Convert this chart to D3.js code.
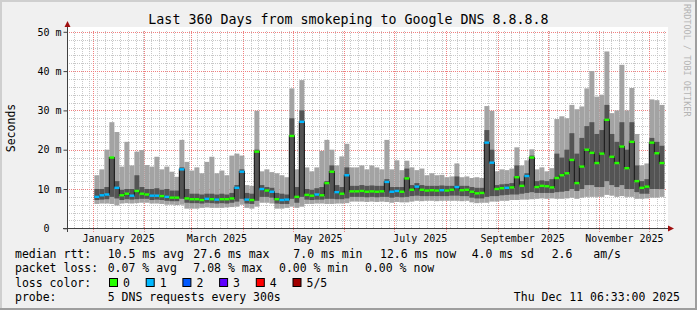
<!DOCTYPE html>
<html>
<head>
<meta charset="utf-8">
<script src="https://cdnjs.cloudflare.com/ajax/libs/d3/7.8.5/d3.min.js"></script>
<style>
body { margin: 0; background: #f0f0f0; }
svg { display: block; }
text { font-family: "DejaVu Sans Mono", monospace; }
</style>
</head>
<body>
<div id="chart"></div>
<script>
// one column per 3 days, starting 2 Jan 2025 (values in ms)
var firstDay = new Date(2025, 0, 2);
var stepDays = 3;

var maxRtt = [13.5,15.0,20.0,27.0,24.5,15.7,22.0,16.0,19.5,19.9,16.1,15.7,18.2,15.0,15.7,14.4,13.1,22.5,16.9,14.7,
  15.5,14.0,16.9,18.2,14.0,14.7,13.5,18.5,19.0,18.5,11.0,10.8,29.9,14.5,15.0,14.3,14.0,13.5,13.0,35.6,
  15.0,37.7,15.5,14.5,15.5,19.7,22.5,20.0,16.0,18.3,21.5,15.5,15.5,16.0,15.0,16.0,15.5,15.0,22.5,15.0,
  17.3,14.8,17.2,15.5,14.8,15.2,13.5,14.0,13.5,13.6,13.0,13.2,16.5,13.0,13.2,12.8,13.0,12.8,31.1,29.9,
  14.5,15.0,14.8,15.2,20.6,16.0,17.3,20.1,15.0,15.5,14.5,15.3,27.8,28.5,28.0,31.4,30.3,31.0,35.6,40.0,
  33.5,34.0,45.0,29.3,30.0,41.6,30.0,35.7,24.0,16.0,16.5,32.8,32.6,31.4];
var hiRtt = [10.0,10.0,10.5,18.0,12.0,9.8,10.0,10.0,13.5,10.5,10.0,10.0,10.2,9.8,10.0,9.6,9.6,15.5,10.0,8.8,
  8.8,8.6,8.8,8.8,8.6,8.8,8.6,9.0,11.0,15.0,9.0,8.8,20.0,11.0,10.5,10.3,9.0,8.8,8.6,28.0,
  10.5,30.0,10.0,9.8,10.2,10.5,12.0,16.0,11.0,10.5,15.5,10.8,10.8,11.0,10.8,10.9,10.8,10.8,12.5,10.5,
  10.5,10.5,15.2,11.0,11.5,11.0,10.8,10.8,10.8,10.9,10.8,10.8,13.2,10.8,10.8,10.5,10.3,10.3,25.0,20.0,
  11.0,11.2,11.3,11.5,16.0,12.0,14.0,18.5,12.0,12.2,12.0,12.5,19.0,18.0,20.0,24.2,19.0,23.0,26.0,27.0,
  24.0,25.0,31.4,24.0,22.0,27.0,20.0,27.0,16.0,12.0,12.5,23.0,22.0,21.0];
var medRtt = [8.0,8.4,8.6,18.0,10.3,8.4,8.8,8.3,9.5,8.8,8.6,8.3,8.3,8.2,8.0,7.8,7.8,15.0,7.6,7.4,
  7.4,7.2,7.5,7.4,7.3,7.4,7.4,7.6,10.3,14.4,7.3,7.2,19.5,10.0,9.6,9.3,7.4,7.2,7.3,23.5,
  8.0,27.1,8.5,8.3,8.6,8.4,11.5,14.4,9.2,8.8,13.5,9.4,9.4,9.5,9.3,9.4,9.3,9.4,11.8,9.3,
  9.5,9.3,12.7,9.8,10.6,9.8,9.6,9.7,9.6,9.7,9.6,9.8,10.5,9.7,9.8,9.3,8.9,9.0,21.8,16.7,
  10.0,10.2,10.3,10.4,13.0,10.8,13.3,18.0,10.5,10.8,10.7,10.4,12.8,13.5,14.0,17.4,11.5,15.7,20.0,19.2,
  16.6,19.0,27.6,18.2,16.6,20.8,15.3,22.0,12.0,10.3,10.6,21.8,19.1,16.6];
var loRtt = [7.2,7.3,7.4,8.0,7.6,7.2,7.4,7.3,7.4,7.5,7.5,7.2,7.3,7.2,7.0,6.9,6.9,7.5,6.5,6.4,
  6.4,6.3,6.5,6.4,6.3,6.4,6.3,6.5,6.8,7.5,6.3,6.2,7.0,8.0,8.0,7.8,6.3,6.2,6.2,7.5,
  6.5,8.0,7.3,7.2,7.3,7.3,7.5,7.5,7.4,7.4,7.6,8.0,8.0,8.0,7.9,8.0,7.9,8.0,8.0,7.8,
  8.0,7.9,8.0,8.2,8.3,8.2,8.2,8.2,8.2,8.2,8.2,8.3,8.3,8.2,8.2,7.8,7.6,7.6,8.0,8.2,
  8.2,8.4,8.5,8.6,8.6,8.8,9.0,9.2,9.0,9.0,9.0,9.0,9.2,9.3,9.5,10.0,9.5,10.0,11.0,11.0,
  10.5,10.5,12.0,11.0,10.5,11.0,10.0,10.0,9.2,8.8,8.8,10.0,10.0,10.0];
var minRtt = [6.2,6.3,6.3,6.2,5.8,6.3,6.4,6.3,6.4,6.5,6.5,6.3,6.3,6.2,6.0,6.0,5.9,6.0,5.0,5.0,
  5.0,5.2,5.3,5.2,5.2,5.2,5.3,5.4,5.5,6.0,5.2,5.0,5.5,6.5,6.5,6.3,5.0,5.0,5.2,5.5,
  5.2,5.5,6.2,6.2,6.3,6.3,6.2,6.2,6.3,6.3,6.4,6.8,6.8,6.8,6.7,6.8,6.7,6.8,6.7,6.5,
  6.7,6.6,6.6,6.8,7.0,6.9,7.0,7.0,6.9,7.0,7.0,7.0,7.0,6.9,7.0,6.6,6.4,6.5,6.5,6.8,
  6.8,7.0,7.0,7.2,7.2,7.3,7.3,7.4,7.5,7.6,7.5,7.6,7.5,7.5,7.6,7.8,7.5,7.8,8.0,8.0,
  8.0,8.0,8.5,8.3,8.0,8.2,8.0,8.0,7.5,7.5,7.6,7.8,7.8,8.0];
var lostPings = [1,1,1,0,1,0,0,1,0,0,0,1,1,0,1,0,0,1,0,0,
  0,0,1,0,1,0,0,0,1,1,1,0,0,1,0,1,0,1,1,0,
  0,1,0,0,1,0,0,0,1,0,1,0,0,0,0,0,0,0,1,1,
  1,0,0,0,1,0,0,0,0,1,0,0,1,0,0,0,0,0,1,1,
  0,0,1,0,0,0,1,0,0,0,0,0,0,0,0,0,0,0,0,0,
  0,0,0,0,0,0,0,0,0,0,0,0,0,0];

var lossColors = ["#26ff00", "#00b8ff", "#0059ff", "#5e00ff", "#ff0000", "#a00000"];
var lossLabels = ["0", "1", "2", "3", "4", "5/5"];
var yTicks = [0, 10, 20, 30, 40, 50];
var monthLabels = ["January 2025", "March 2025", "May 2025", "July 2025", "September 2025", "November 2025"];

var W = 697, H = 310;

var svg = d3.select("#chart").append("svg")
  .attr("width", W).attr("height", H);

// background and 3d frame
svg.append("rect").attr("width", W).attr("height", H).attr("fill", "#f0f0f0");
svg.append("path").attr("d", "M0,0H" + W + "V2H2V" + H + "H0Z").attr("fill", "#cfcfcf");
svg.append("path").attr("d", "M" + W + "," + H + "H0V" + (H - 2) + "H" + (W - 2) + "V0H" + W + "Z").attr("fill", "#9e9e9e");

var x = d3.scaleTime()
  .domain([new Date(2024, 11, 16, 6, 33), new Date(2025, 11, 11, 6, 33)])
  .range([66.5, 666.5]);
var y = d3.scaleLinear().domain([0, 50]).range([228.3, 31.8]);

// canvas
svg.append("rect").attr("x", 67).attr("y", 27).attr("width", 601).attr("height", 201).attr("fill", "#ffffff");

var cols = medRtt.map(function(m, i) {
  var t0 = d3.timeDay.offset(firstDay, i * stepDays);
  return {t0: t0, t1: d3.timeDay.offset(t0, stepDays), max: maxRtt[i], hi: hiRtt[i],
    med: m, lo: loRtt[i], min: minRtt[i], loss: lostPings[i]};
});

// grid behind the smoke
var grid = svg.append("g");
var minorY = d3.range(2, 51, 2).filter(function(v) { return v % 10; });
grid.selectAll("line.ymin").data(minorY).enter().append("line")
  .attr("x1", 67).attr("x2", 667)
  .attr("y1", function(d) { return Math.round(y(d)) + 0.5; })
  .attr("y2", function(d) { return Math.round(y(d)) + 0.5; })
  .attr("stroke", "#c8c8c8").attr("stroke-dasharray", "1,1");
var minorX = d3.range(1, 79).map(function(i) { return d3.timeHour.offset(x.domain()[0], Math.round(i * 4.6 * 24)); });
grid.selectAll("line.xmin").data(minorX).enter().append("line")
  .attr("x1", function(d) { return Math.round(x(d)) + 0.5; })
  .attr("x2", function(d) { return Math.round(x(d)) + 0.5; })
  .attr("y1", 31).attr("y2", 228)
  .attr("stroke", "#c8c8c8").attr("stroke-dasharray", "1,1");
grid.selectAll("line.ymaj").data(yTicks.slice(1)).enter().append("line")
  .attr("x1", 67).attr("x2", 667)
  .attr("y1", function(d) { return Math.round(y(d)) + 0.5; })
  .attr("y2", function(d) { return Math.round(y(d)) + 0.5; })
  .attr("stroke", "#f08080").attr("stroke-dasharray", "1,1");
var months = d3.timeMonth.range(x.domain()[0], x.domain()[1]);
grid.selectAll("line.xmaj").data(months).enter().append("line")
  .attr("x1", function(d) { return Math.round(x(d)) + 0.5; })
  .attr("x2", function(d) { return Math.round(x(d)) + 0.5; })
  .attr("y1", 31).attr("y2", 232)
  .attr("stroke", "#f08080").attr("stroke-dasharray", "1,1");

var plot = svg.append("g");

// outer smoke
plot.selectAll("rect.smoke1").data(cols).enter().append("rect")
  .attr("class", "smoke1")
  .attr("x", function(d) { return x(d.t0); })
  .attr("width", function(d) { return x(d.t1) - x(d.t0); })
  .attr("y", function(d) { return y(d.max); })
  .attr("height", function(d) { return y(d.min) - y(d.max); })
  .attr("fill", "#a3a3a3");

// inner smoke
plot.selectAll("rect.smoke2").data(cols).enter().append("rect")
  .attr("class", "smoke2")
  .attr("x", function(d) { return x(d.t0); })
  .attr("width", function(d) { return x(d.t1) - x(d.t0); })
  .attr("y", function(d) { return y(d.hi); })
  .attr("height", function(d) { return y(d.lo) - y(d.hi); })
  .attr("fill", "#545454");

// median line
var medLine = d3.line()
  .x(function(d) { return x(d.t); })
  .y(function(d) { return y(d.v); });
var medPts = [];
cols.forEach(function(d) { medPts.push({t: d.t0, v: d.med}); medPts.push({t: d.t1, v: d.med}); });
plot.append("path").attr("d", medLine(medPts))
  .attr("fill", "none").attr("stroke", "#202020").attr("stroke-width", 1.2);

// loss coloured median marks
plot.selectAll("rect.med").data(cols).enter().append("rect")
  .attr("class", "med")
  .attr("x", function(d) { return x(d.t0); })
  .attr("width", function(d) { return x(d.t1) - x(d.t0); })
  .attr("y", function(d) { return y(d.med) - 1.2; })
  .attr("height", 2.4)
  .attr("fill", function(d) { return lossColors[d.loss]; });

// y axis
var yAxis = d3.axisLeft(y).tickValues(yTicks).tickSize(4)
  .tickFormat(function(d) { return d ? d + " m" : "0  "; });
var gy = svg.append("g").attr("transform", "translate(67.5,0)").call(yAxis);
gy.select(".domain").remove();
gy.selectAll(".tick line").attr("stroke", "#404040");
gy.selectAll(".tick text").attr("x", -6).attr("font-size", 10)
  .attr("font-family", "DejaVu Sans Mono").style("white-space", "pre").attr("fill", "#000");

// x axis labels centred in the month
var labelMonths = months.filter(function(d) { return d.getMonth() % 2 === 0; });
svg.selectAll("text.xlab").data(labelMonths).enter().append("text")
  .attr("class", "xlab")
  .attr("x", function(d) { return (x(d) + x(d3.timeMonth.offset(d, 1))) / 2; })
  .attr("y", 241.5)
  .attr("text-anchor", "middle").attr("font-size", 10)
  .text(function(d, i) { return monthLabels[i]; });

// axis lines with arrows
svg.append("line").attr("x1", 67.5).attr("x2", 67.5).attr("y1", 232).attr("y2", 26).attr("stroke", "#404040");
svg.append("line").attr("x1", 63).attr("x2", 669).attr("y1", 228.5).attr("y2", 228.5).attr("stroke", "#404040");
svg.append("path").attr("d", "M64.5,27L70.5,27L67.5,21Z").attr("fill", "#a01010");
svg.append("path").attr("d", "M668,225.5L668,231.5L674,228.5Z").attr("fill", "#a01010");

// titles
svg.append("text").attr("x", 348.5).attr("y", 24).attr("text-anchor", "middle")
  .attr("font-size", 13.3).text("Last 360 Days from smokeping to Google DNS 8.8.8.8");
svg.append("text").attr("transform", "translate(14.5,128) rotate(-90)").attr("text-anchor", "middle")
  .attr("font-size", 11.5).text("Seconds");
svg.append("text").attr("transform", "translate(684,4) rotate(90)")
  .attr("font-size", 8.5).attr("fill", "#b4b4b4").text("RRDTOOL / TOBI OETIKER");

// legend
var legendRows = [
  [[15, "median rtt:"], [107.7, "10.5 ms avg"], [193.3, "27.6 ms max"], [293.3, "7.0 ms min"],
   [380, "12.6 ms now"], [471.7, "4.0 ms sd"], [551.7, "2.6"], [593.3, "am/s"]],
  [[15, "packet loss:"], [107.7, "0.07 % avg"], [193.3, "7.08 % max"], [279, "0.00 % min"], [365, "0.00 % now"]],
  [[15, "loss color:"]],
  [[15, "probe:"], [107.7, "5 DNS requests every 300s"]]
];
var rowY = [258.3, 272.4, 286.5, 300.6];
legendRows.forEach(function(row, r) {
  svg.selectAll(null).data(row).enter().append("text")
    .attr("x", function(d) { return d[0]; })
    .attr("y", rowY[r])
    .attr("font-size", 11.5).style("white-space", "pre")
    .text(function(d) { return d[1]; });
});
var boxes = svg.selectAll("g.lbox").data(lossLabels).enter().append("g")
  .attr("transform", function(d, i) { return "translate(" + (109 + i * 36.7) + ",278)"; });
boxes.append("rect").attr("x", 0.5).attr("y", 0.5).attr("width", 8).attr("height", 8)
  .attr("fill", function(d, i) { return lossColors[i]; }).attr("stroke", "#000");
boxes.append("text").attr("x", 14).attr("y", 8.5).attr("font-size", 11.5).text(function(d) { return d; });

svg.append("text").attr("x", 680).attr("y", rowY[3]).attr("text-anchor", "end")
  .attr("font-size", 11.5).text("Thu Dec 11 06:33:00 2025");
</script>
</body>
</html>
